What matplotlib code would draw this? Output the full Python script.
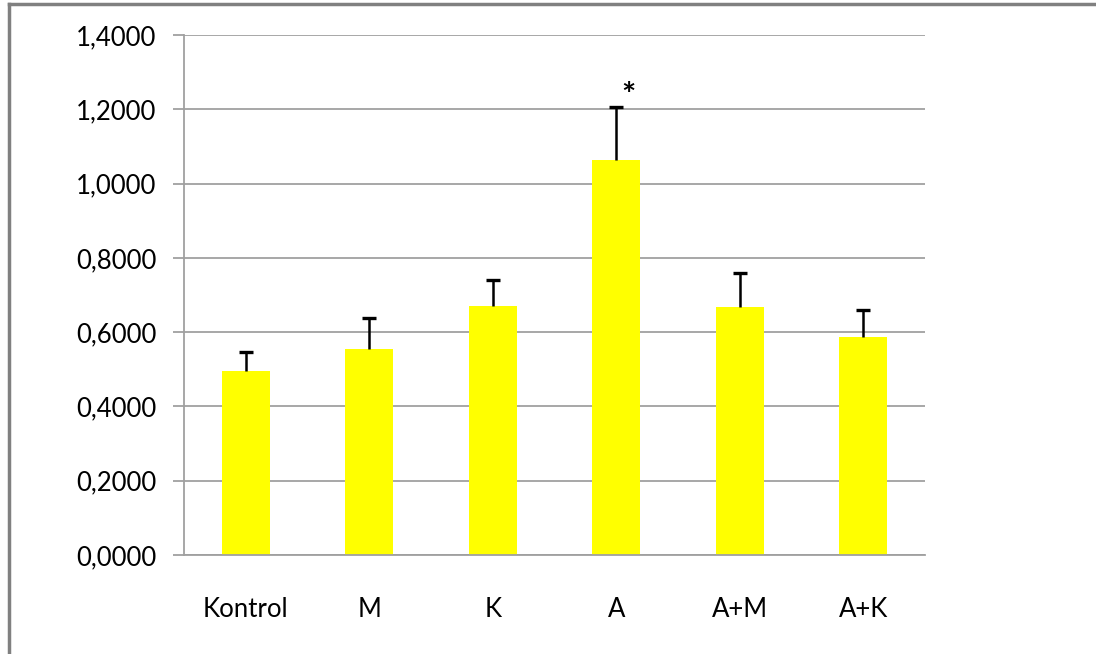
import matplotlib
import matplotlib.pyplot as plt
from matplotlib.lines import Line2D
from matplotlib.ticker import FuncFormatter

matplotlib.use('Agg')

# values
groups = ["Kontrol", "M", "K", "A", "A+M", "A+K"]
means = [0.495, 0.554, 0.670, 1.063, 0.667, 0.588]
errors = [0.052, 0.083, 0.070, 0.144, 0.092, 0.072]
y_ticks = [0.0, 0.2, 0.4, 0.6, 0.8, 1.0, 1.2, 1.4]

plt.rcParams['font.family'] = ['Lato', 'DejaVu Sans']

fig = plt.figure(figsize=(10.96, 6.54), dpi=100)
ax = fig.add_axes([0.1679, 0.1514, 0.6761, 0.7951])

x = range(len(groups))
bars = ax.bar(x, means, width=0.39, color='#FFFF00', zorder=2,
              yerr=[[0] * len(errors), errors],
              error_kw=dict(ecolor='black', elinewidth=1.8, capsize=5, capthick=2.4, zorder=3))
# only the upper cap is shown, like the Excel "plus" error bars
caps = bars.errorbar.lines[1]
caps[0].set_visible(False)

# significance mark on A
ax.text(3.1, 1.235, "*", fontsize=24, fontweight='bold', ha='center', va='center', zorder=4)

ax.set_xlim(-0.5, len(groups) - 0.5)
ax.set_ylim(0, 1.4)
ax.set_yticks(y_ticks)
ax.yaxis.set_major_formatter(FuncFormatter(lambda v, p: f"{v:.4f}".replace('.', ',')))
ax.set_xticks(list(x))
ax.set_xticklabels(groups)

ax.grid(axis='y', color='#A0A0A0', linewidth=1.3, zorder=0)
for s in ['top', 'right']:
    ax.spines[s].set_visible(False)
ax.spines['left'].set_color('#A0A0A0')
ax.spines['left'].set_linewidth(1.3)
ax.spines['bottom'].set_color('#A0A0A0')
ax.spines['bottom'].set_linewidth(1.3)

ax.tick_params(axis='y', length=8, width=1.3, color='#A0A0A0', labelsize=18.5, pad=12)
ax.tick_params(axis='x', length=0, labelsize=18.5, pad=30)

# outer frame: top and left edges only
fig.add_artist(Line2D([0.008, 0.999], [0.994, 0.994], color='#808080', linewidth=2.5, transform=fig.transFigure))
fig.add_artist(Line2D([0.0085, 0.0085], [0.0, 0.994], color='#808080', linewidth=2.5, transform=fig.transFigure))

plt.savefig('out.png', dpi=100)
plt.close()
